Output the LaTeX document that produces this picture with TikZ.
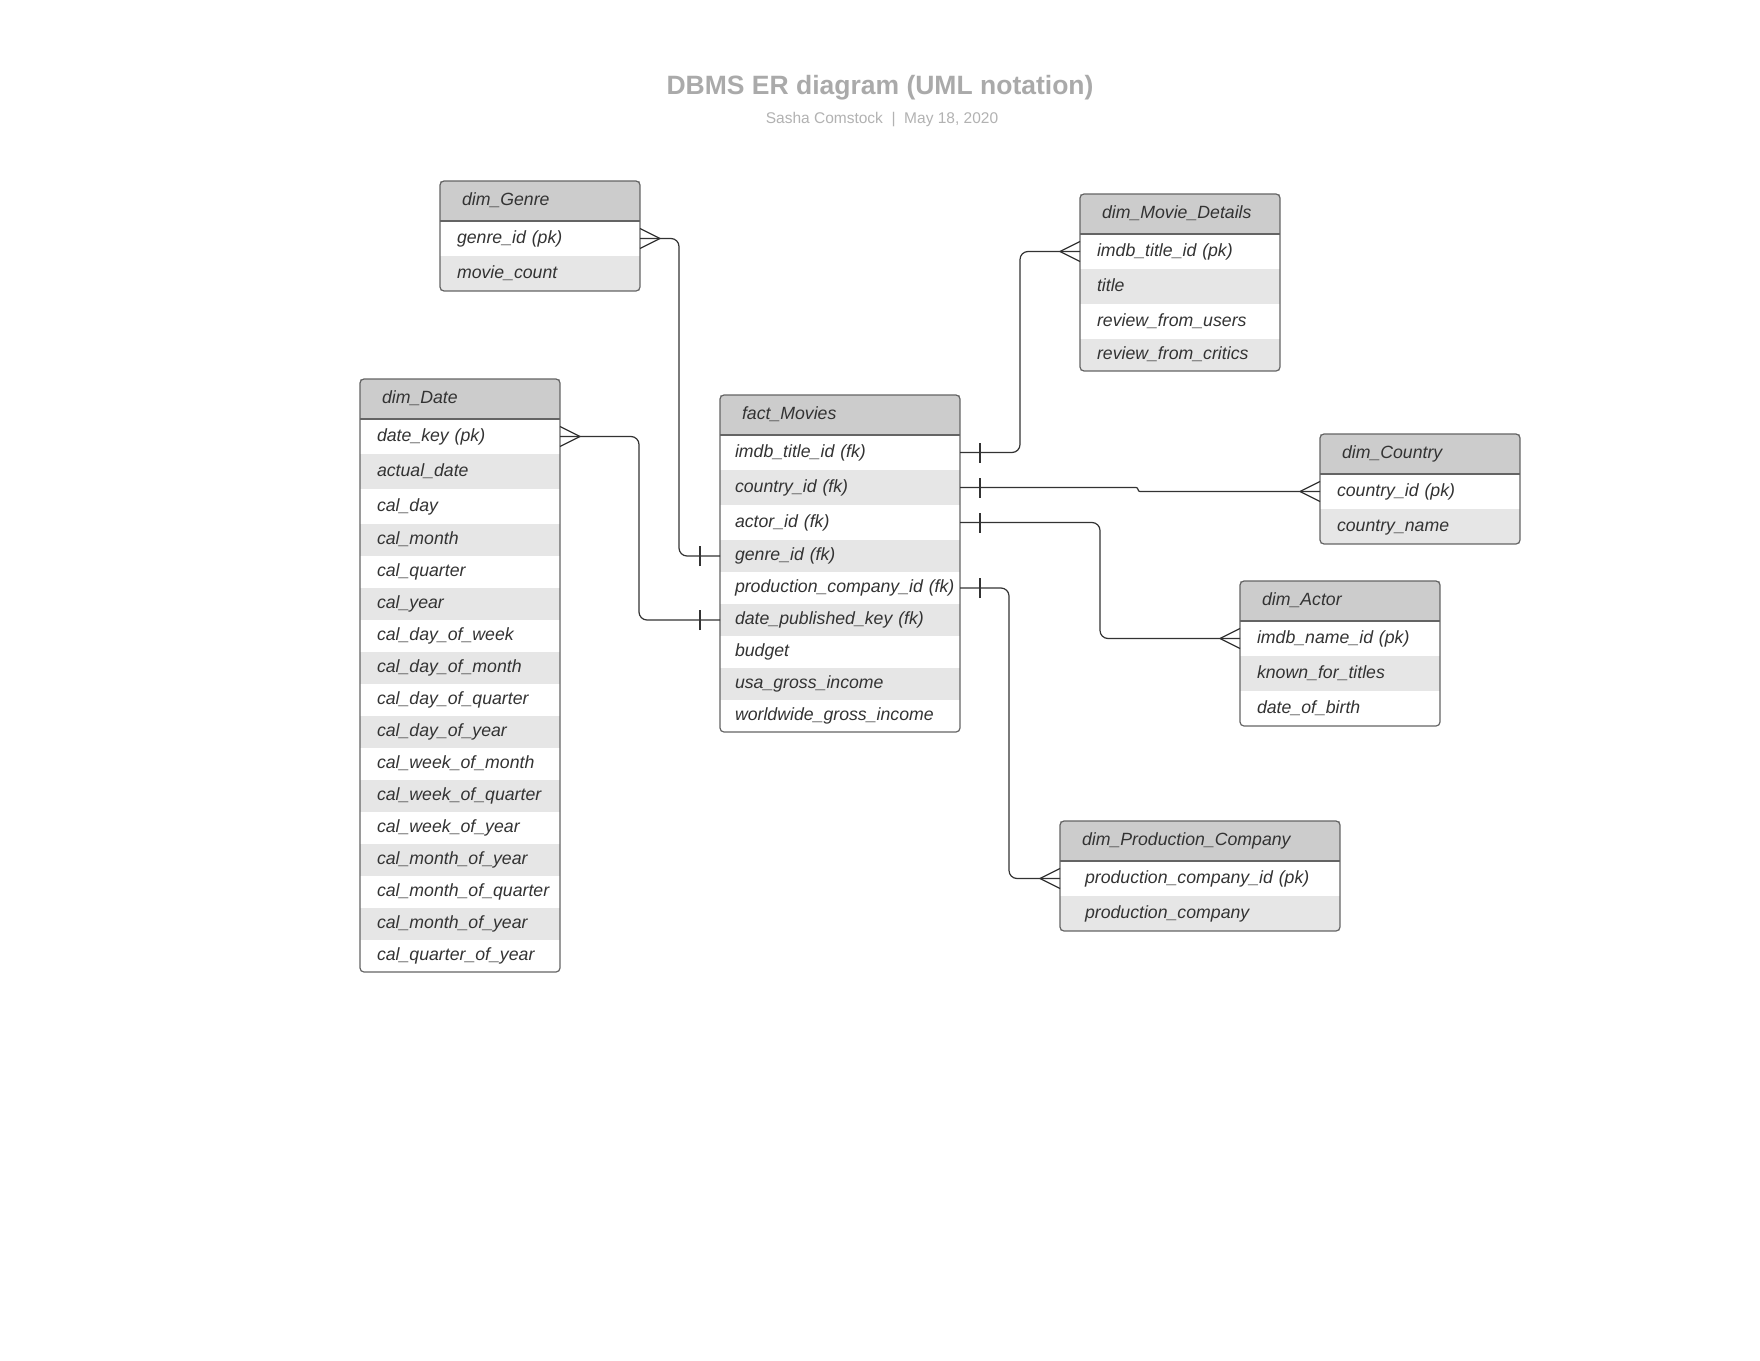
\documentclass[tikz,border=0pt]{standalone}
\usepackage{fontspec}
\setmainfont{Liberation Sans}
\definecolor{headgray}{RGB}{204,204,204}
\definecolor{stripegray}{RGB}{230,230,230}
\definecolor{framegray}{RGB}{100,100,100}
\definecolor{inkgray}{RGB}{51,51,51}
\definecolor{titlegray}{RGB}{170,170,170}
\definecolor{subgray}{RGB}{178,178,178}
\newcommand{\rowfont}{\fontsize{17.7pt}{21pt}\selectfont\itshape}
\tikzset{
  rowx/.style={inner xsep=17pt, text width=166pt},
  hdrx/.style={text width=156pt},
  tblcell/.style={anchor=north west, outer sep=0pt, inner ysep=0pt, align=left,
    text height=12.7pt, text depth=3.7pt, text=inkgray, font=\rowfont},
  tblhead/.style={tblcell, fill=headgray, minimum height=40pt, inner xsep=22pt, hdrx},
  tblrow/.style={tblcell, fill=white, minimum height=35pt, rowx},
  shaded/.style={fill=stripegray},
  lowrow/.style={minimum height=32pt},
  tblframe/.style={draw=framegray, line width=1.2pt, rounded corners=4pt},
  conn/.style={draw=inkgray, line width=1.2pt, rounded corners=8pt},
  crowfoot/.pic={\draw[conn] (-20pt,0pt) -- (0pt,10pt) (-20pt,0pt) -- (0pt,-10pt);},
  onebar/.pic={\draw[conn] (20pt,-10pt) -- (20pt,10pt);}
}
\begin{document}
\begin{tikzpicture}[x=1pt, y=-1pt]
    \fill[white] (0,0) rectangle (1760,1360);
    \useasboundingbox (0,0) rectangle (1760,1360);

    % title
    \node[font=\fontsize{26.5pt}{30pt}\selectfont\bfseries, text=titlegray] (title) at (880,87.5) {DBMS ER diagram (UML notation)};
    \node[font=\fontsize{15.5pt}{18pt}\selectfont, text=subgray] (byline) at (882,120) {Sasha Comstock~~|~~May 18, 2020};

    % dim_Genre
    \node[tblhead] (genre) at (440,181) {dim\_Genre};
    \node[tblrow] (genre-id) at (440,221) {genre\_id (pk)};
    \node[tblrow, shaded] (genre-count) at (440,256) {movie\_count};
    \draw[tblframe] (genre.south west) -- (genre.south east);
    \draw[tblframe] (genre.north west) rectangle (genre-count.south east);

    % dim_Date
    \node[tblhead] (date) at (360,379) {dim\_Date};
    \node[tblrow] (date-key) at (360,419) {date\_key (pk)};
    \node[tblrow, shaded] (date-actual) at (360,454) {actual\_date};
    \node[tblrow] (date-day) at (360,489) {cal\_day};
    \node[tblrow, lowrow, shaded] (date-month) at (360,524) {cal\_month};
    \node[tblrow, lowrow] (date-quarter) at (360,556) {cal\_quarter};
    \node[tblrow, lowrow, shaded] (date-year) at (360,588) {cal\_year};
    \node[tblrow, lowrow] (date-dow) at (360,620) {cal\_day\_of\_week};
    \node[tblrow, lowrow, shaded] (date-dom) at (360,652) {cal\_day\_of\_month};
    \node[tblrow, lowrow] (date-doq) at (360,684) {cal\_day\_of\_quarter};
    \node[tblrow, lowrow, shaded] (date-doy) at (360,716) {cal\_day\_of\_year};
    \node[tblrow, lowrow] (date-wom) at (360,748) {cal\_week\_of\_month};
    \node[tblrow, lowrow, shaded] (date-woq) at (360,780) {cal\_week\_of\_quarter};
    \node[tblrow, lowrow] (date-woy) at (360,812) {cal\_week\_of\_year};
    \node[tblrow, lowrow, shaded] (date-moy) at (360,844) {cal\_month\_of\_year};
    \node[tblrow, lowrow] (date-moq) at (360,876) {cal\_month\_of\_quarter};
    \node[tblrow, lowrow, shaded] (date-moy2) at (360,908) {cal\_month\_of\_year};
    \node[tblrow, lowrow] (date-qoy) at (360,940) {cal\_quarter\_of\_year};
    \draw[tblframe] (date.south west) -- (date.south east);
    \draw[tblframe] (date.north west) rectangle (date-qoy.south east);

    % fact_Movies
    \begin{scope}[rowx/.style={inner xsep=15pt, text width=210pt}, hdrx/.style={text width=196pt}]
    \node[tblhead] (fact) at (720,395) {fact\_Movies};
    \node[tblrow] (fact-imdb) at (720,435) {imdb\_title\_id (fk)};
    \node[tblrow, shaded] (fact-country) at (720,470) {country\_id (fk)};
    \node[tblrow] (fact-actor) at (720,505) {actor\_id (fk)};
    \node[tblrow, lowrow, shaded] (fact-genre) at (720,540) {genre\_id (fk)};
    \node[tblrow, lowrow] (fact-prod) at (720,572) {production\_company\_id~(fk)};
    \node[tblrow, lowrow, shaded] (fact-date) at (720,604) {date\_published\_key (fk)};
    \node[tblrow, lowrow] (fact-budget) at (720,636) {budget};
    \node[tblrow, lowrow, shaded] (fact-usa) at (720,668) {usa\_gross\_income};
    \node[tblrow, lowrow] (fact-world) at (720,700) {worldwide\_gross\_income};
    \end{scope}
    \draw[tblframe] (fact.south west) -- (fact.south east);
    \draw[tblframe] (fact.north west) rectangle (fact-world.south east);

    % dim_Movie_Details
    \node[tblhead] (details) at (1080,194) {dim\_Movie\_Details};
    \node[tblrow] (details-imdb) at (1080,234) {imdb\_title\_id (pk)};
    \node[tblrow, shaded] (details-title) at (1080,269) {title};
    \node[tblrow] (details-users) at (1080,304) {review\_from\_users};
    \node[tblrow, lowrow, shaded] (details-critics) at (1080,339) {review\_from\_critics};
    \draw[tblframe] (details.south west) -- (details.south east);
    \draw[tblframe] (details.north west) rectangle (details-critics.south east);

    % dim_Country
    \node[tblhead] (country) at (1320,434) {dim\_Country};
    \node[tblrow] (country-id) at (1320,474) {country\_id (pk)};
    \node[tblrow, shaded] (country-name) at (1320,509) {country\_name};
    \draw[tblframe] (country.south west) -- (country.south east);
    \draw[tblframe] (country.north west) rectangle (country-name.south east);

    % dim_Actor
    \node[tblhead] (actor) at (1240,581) {dim\_Actor};
    \node[tblrow] (actor-id) at (1240,621) {imdb\_name\_id (pk)};
    \node[tblrow, shaded] (actor-known) at (1240,656) {known\_for\_titles};
    \node[tblrow] (actor-birth) at (1240,691) {date\_of\_birth};
    \draw[tblframe] (actor.south west) -- (actor.south east);
    \draw[tblframe] (actor.north west) rectangle (actor-birth.south east);

    % dim_Production_Company
    \begin{scope}[rowx/.style={inner xsep=25pt, text width=230pt}, hdrx/.style={text width=236pt}]
    \node[tblhead] (company) at (1060,821) {dim\_Production\_Company};
    \node[tblrow] (company-id) at (1060,861) {production\_company\_id (pk)};
    \node[tblrow, shaded] (company-name) at (1060,896) {production\_company};
    \end{scope}
    \draw[tblframe] (company.south west) -- (company.south east);
    \draw[tblframe] (company.north west) rectangle (company-name.south east);

    % relations
    \draw[conn] (genre-id.east) -- ++(39,0) |- (fact-genre.west);
    \draw[conn] (date-key.east) -- ++(79,0) |- (fact-date.west);
    \draw[conn] (fact-imdb.east) -- ++(60,0) |- (details-imdb.west);
    \draw[conn, rounded corners=2pt] (fact-country.east) -- ++(178,0) |- (country-id.west);
    \draw[conn] (fact-actor.east) -- ++(140,0) |- (actor-id.west);
    \draw[conn] (fact-prod.east) -- ++(49,0) |- (company-id.west);

    \pic[xscale=-1] at (genre-id.east) {crowfoot};
    \pic[xscale=-1] at (date-key.east) {crowfoot};
    \pic at (details-imdb.west) {crowfoot};
    \pic at (country-id.west) {crowfoot};
    \pic at (actor-id.west) {crowfoot};
    \pic at (company-id.west) {crowfoot};
    \pic at (fact-imdb.east) {onebar};
    \pic at (fact-country.east) {onebar};
    \pic at (fact-actor.east) {onebar};
    \pic at (fact-prod.east) {onebar};
    \pic[xscale=-1] at (fact-genre.west) {onebar};
    \pic[xscale=-1] at (fact-date.west) {onebar};
\end{tikzpicture}
\end{document}
